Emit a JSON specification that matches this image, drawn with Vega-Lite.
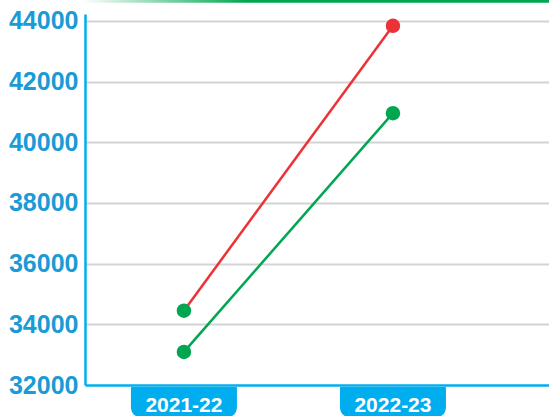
{
  "$schema": "https://vega.github.io/schema/vega-lite/v6.json",
  "width": 464,
  "height": 371,
  "autosize": "none",
  "padding": {"left": 85, "top": 14, "right": 0, "bottom": 31},
  "background": "white",
  "config": {"view": {"stroke": null}},
  "datasets": {
    "values": [
      {"year": "2021-22", "series": "Series 1", "value": 34450},
      {"year": "2022-23", "series": "Series 1", "value": 43840},
      {"year": "2021-22", "series": "Series 2", "value": 33090},
      {"year": "2022-23", "series": "Series 2", "value": 40960}
    ],
    "years": [{"year": "2021-22"}, {"year": "2022-23"}]
  },
  "layer": [
    {
      "data": {"name": "years"},
      "mark": {"type": "rect", "clip": false, "fill": {"gradient": "linear", "x1": 0, "x2": 1, "y1": 0, "y2": 0, "stops": [{"offset": 0, "color": "#ffffff"}, {"offset": 0.15, "color": "#ffffff"}, {"offset": 0.45, "color": "#00a650"}, {"offset": 1, "color": "#00a650"}]}},
      "encoding": {
        "x": {"value": -85},
        "x2": {"value": 464},
        "y": {"datum": 44690, "type": "quantitative", "scale": {"domain": [32000, 44230], "nice": false, "zero": false}},
        "y2": {"datum": 44610}
      }
    },
    {
      "data": {"name": "values"},
      "mark": {"type": "line", "strokeWidth": 2.5},
      "encoding": {
        "x": {"field": "year", "type": "ordinal", "scale": {"type": "point", "padding": 0.61, "align": 0.388}, "axis": null},
        "y": {
          "field": "value", "type": "quantitative",
          "scale": {"domain": [32000, 44230], "nice": false, "zero": false},
          "axis": {
            "title": null,
            "values": [32000, 34000, 36000, 38000, 40000, 42000, 44000],
            "format": "d",
            "ticks": false,
            "grid": true,
            "gridColor": {"condition": {"test": "datum.value === 32000", "value": "#00aeef"}, "value": "#d1d3d4"},
            "gridWidth": {"condition": {"test": "datum.value === 32000", "value": 2.5}, "value": 2},
            "domainColor": "#00aeef",
            "domainWidth": 2.5,
            "labelColor": "#1a9ad6",
            "labelFont": "Liberation Sans",
            "labelFontWeight": "bold",
            "labelFontSize": 25,
            "labelPadding": 7,
            "labelBaseline": "middle"
          }
        },
        "color": {"field": "series", "type": "nominal", "scale": {"domain": ["Series 1", "Series 2"], "range": ["#ed3237", "#00a650"]}, "legend": null}
      }
    },
    {
      "data": {"name": "values"},
      "mark": {"type": "point", "filled": true, "opacity": 1, "size": 210},
      "encoding": {
        "x": {"field": "year", "type": "ordinal", "scale": {"type": "point", "padding": 0.61, "align": 0.388}, "axis": null},
        "y": {"field": "value", "type": "quantitative"},
        "color": {
          "condition": {"test": "datum.year === '2021-22'", "value": "#00a650"},
          "field": "series", "type": "nominal", "legend": null
        }
      }
    },
    {
      "data": {"name": "years"},
      "mark": {"type": "bar", "width": 106, "clip": false, "color": "#00aeef", "cornerRadiusBottomLeft": 10, "cornerRadiusBottomRight": 10},
      "encoding": {
        "x": {"field": "year", "type": "ordinal", "scale": {"type": "point", "padding": 0.61, "align": 0.388}, "axis": null},
        "y": {"datum": 31930, "type": "quantitative"},
        "y2": {"datum": 30930}
      }
    },
    {
      "data": {"name": "years"},
      "mark": {"type": "text", "clip": false, "color": "white", "font": "Liberation Sans", "fontWeight": "bold", "fontSize": 21, "baseline": "middle", "align": "center"},
      "encoding": {
        "x": {"field": "year", "type": "ordinal", "scale": {"type": "point", "padding": 0.61, "align": 0.388}, "axis": null},
        "y": {"datum": 31310, "type": "quantitative"},
        "text": {"field": "year"}
      }
    }
  ]
}
